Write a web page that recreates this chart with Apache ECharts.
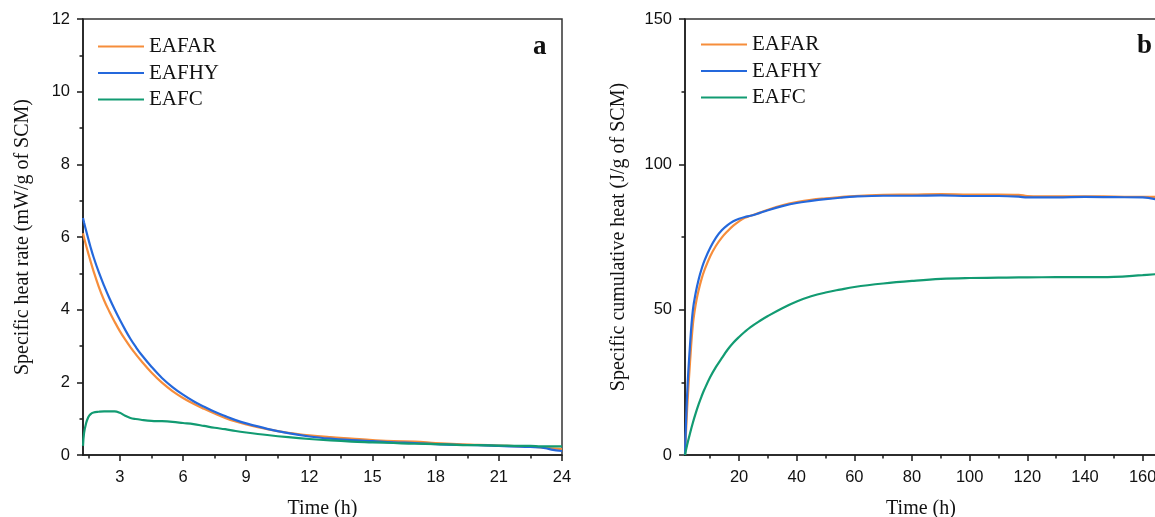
<!DOCTYPE html>
<html>
<head>
<meta charset="utf-8">
<script src="https://cdn.jsdelivr.net/npm/echarts@6/dist/echarts.min.js"></script>
<style>
html,body{margin:0;padding:0;background:#fff;}
#chart{width:1155px;height:517px;}
</style>
</head>
<body>
<div id="chart"></div>
<script>
// ---- Panel a: specific heat rate (mW/g of SCM) ----
const seriesNames = ['EAFAR', 'EAFHY', 'EAFC'];
const rateTime = [1.25,1.3,1.4,1.5,1.6,1.75,2,2.25,2.5,2.75,3,3.25,3.5,3.75,4,4.5,5,5.5,6,6.5,7,7.5,8,8.5,9,10,11,12,13,14,15,16,17,18,19,20,21,22,22.5,23,23.5,24];
const rateEAFAR = [6.10,5.98,5.76,5.55,5.35,5.06,4.63,4.26,3.95,3.67,3.41,3.18,2.97,2.78,2.60,2.27,1.99,1.76,1.57,1.41,1.27,1.14,1.02,0.92,0.84,0.71,0.61,0.54,0.49,0.45,0.41,0.38,0.37,0.33,0.30,0.28,0.26,0.24,0.23,0.21,0.18,0.16];
const rateEAFHY = [6.52,6.40,6.17,5.95,5.74,5.45,5.03,4.66,4.32,4.01,3.72,3.45,3.20,2.98,2.78,2.43,2.12,1.87,1.66,1.48,1.33,1.19,1.07,0.96,0.87,0.72,0.60,0.51,0.45,0.41,0.38,0.35,0.33,0.30,0.28,0.27,0.25,0.23,0.22,0.21,0.15,0.11];
const rateEAFC  = [0.25,0.60,0.88,1.04,1.12,1.17,1.19,1.20,1.20,1.20,1.16,1.08,1.02,0.99,0.97,0.94,0.93,0.91,0.88,0.85,0.80,0.75,0.71,0.66,0.62,0.55,0.49,0.44,0.40,0.37,0.35,0.33,0.31,0.30,0.28,0.27,0.26,0.25,0.25,0.24,0.24,0.24];
const rateXTicks = [3,6,9,12,15,18,21,24];
const rateXMinor = [1.5,4.5,7.5,10.5,13.5,16.5,19.5,22.5];

// ---- Panel b: specific cumulative heat (J/g of SCM) ----
const cumTime = [1.25,2,3,4,5,6,7,8,10,12,14,16,18,20,22,24,27,30,35,40,45,50,55,60,70,80,90,100,110,117,120,130,140,150,160,164.5];
const cumEAFAR = [0,16,32,45,52,56.8,60.6,63.6,68.4,72,74.8,77,78.9,80.4,81.6,82.3,83.3,84.4,85.9,87.0,87.8,88.3,88.7,89.1,89.5,89.6,89.8,89.6,89.6,89.5,89.1,89.0,89.0,88.9,88.8,88.8];
const cumEAFHY = [0,21,38,50,56,60.5,64,66.9,71.3,74.8,77.3,79.1,80.4,81.3,81.9,82.3,83.2,84.2,85.6,86.7,87.4,88.0,88.5,88.9,89.2,89.2,89.3,89.1,89.1,88.9,88.6,88.6,88.8,88.7,88.6,88.0];
const cumEAFC  = [0,3.5,7.5,11.2,14.5,17.5,20.2,22.6,26.8,30.3,33.3,36.2,38.6,40.6,42.4,44.0,46.0,47.8,50.5,52.8,54.6,55.9,56.9,57.8,59.0,59.9,60.6,60.9,61.0,61.1,61.1,61.2,61.2,61.3,61.9,62.2];
const cumXTicks = [20,40,60,80,100,120,140,160];
const cumXMinor = [10,30,50,70,90,110,130,150];

const colors = ['#F68D3B', '#2468DC', '#129B72'];
const SANS = '"Liberation Sans", Arial, sans-serif';
const SERIF = '"Liberation Serif", "Times New Roman", serif';
const AXIS_COLOR = '#1a1a1a';

function zip(xs, ys) { return xs.map((x, i) => [x, ys[i]]); }

function mainX(gridIndex, min, max, ticks) {
  return {
    type: 'value', gridIndex, min, max, position: 'bottom',
    name: 'Time (h)', nameLocation: 'middle', nameGap: 44,
    nameTextStyle: { fontFamily: SERIF, fontSize: 20, color: '#111' },
    axisLine: { show: true, onZero: false, lineStyle: { color: AXIS_COLOR, width: 1.5 } },
    axisTick: { show: true, inside: false, length: 6, customValues: ticks, lineStyle: { color: AXIS_COLOR, width: 1.5 } },
    axisLabel: { show: true, customValues: ticks, margin: 14, fontFamily: SANS, fontSize: 16.5, color: '#111' },
    splitLine: { show: false }
  };
}
function minorX(gridIndex, min, max, ticks) {
  return {
    type: 'value', gridIndex, min, max, position: 'bottom',
    axisLine: { show: false, onZero: false },
    axisTick: { show: true, inside: false, length: 3.5, customValues: ticks, lineStyle: { color: AXIS_COLOR, width: 1.5 } },
    axisLabel: { show: false },
    splitLine: { show: false }
  };
}
function mainY(gridIndex, max, interval, name, gap) {
  return {
    type: 'value', gridIndex, min: 0, max, interval,
    name, nameLocation: 'middle', nameGap: gap,
    nameTextStyle: { fontFamily: SERIF, fontSize: 20, color: '#111' },
    axisLine: { show: true, onZero: false, lineStyle: { color: AXIS_COLOR, width: 1.5 } },
    axisTick: { show: true, inside: false, length: 6, lineStyle: { color: AXIS_COLOR, width: 1.5 } },
    minorTick: { show: true, splitNumber: 2, length: 3.5, lineStyle: { color: AXIS_COLOR, width: 1.5 } },
    axisLabel: { margin: 13, fontFamily: SANS, fontSize: 16.5, color: '#111' },
    splitLine: { show: false }, minorSplitLine: { show: false }
  };
}
function lineSeries(name, xAxisIndex, yAxisIndex, data, color) {
  return {
    name, type: 'line', xAxisIndex, yAxisIndex, data,
    symbol: 'none', showSymbol: false, smooth: 0.4,
    lineStyle: { color, width: 2.2 }, itemStyle: { color },
    emphasis: { disabled: true }, animation: false
  };
}
function legendFor(left, top) {
  return {
    left, top, orient: 'vertical', itemWidth: 46, itemHeight: 14, itemGap: 5.5,
    data: seriesNames.map(n => ({ name: n, icon: 'path://M0,5.9 L46,5.9 L46,8.1 L0,8.1 Z' })),
    textStyle: { fontFamily: SERIF, fontSize: 21, color: '#111', lineHeight: 20 },
    selectedMode: false
  };
}

const chart = echarts.init(document.getElementById('chart'), null, { renderer: 'canvas' });
const option = {
  backgroundColor: '#fff',
  animation: false,
  grid: [
    { left: 83, top: 19, width: 479, height: 436, show: true, borderColor: '#333', borderWidth: 1.5, backgroundColor: 'transparent', outerBoundsMode: 'none', containLabel: false },
    { left: 685, top: 19, width: 472, height: 436, show: true, borderColor: '#333', borderWidth: 1.5, backgroundColor: 'transparent', outerBoundsMode: 'none', containLabel: false }
  ],
  xAxis: [
    mainX(0, 1.25, 24, rateXTicks),
    mainX(1, 1.25, 164.97, cumXTicks),
    minorX(0, 1.25, 24, rateXMinor),
    minorX(1, 1.25, 164.97, cumXMinor)
  ],
  yAxis: [
    mainY(0, 12, 2, 'Specific heat rate (mW/g of SCM)', 50),
    mainY(1, 150, 50, 'Specific cumulative heat (J/g of SCM)', 56)
  ],
  legend: [ legendFor(93, 31), legendFor(696, 29) ],
  graphic: [
    { type: 'text', left: 533, top: 34, style: { text: 'a', font: 'bold 27px "Liberation Serif", serif', fill: '#111' } },
    { type: 'text', left: 1137, top: 33, style: { text: 'b', font: 'bold 27px "Liberation Serif", serif', fill: '#111' } }
  ],
  series: [
    lineSeries('EAFAR', 0, 0, zip(rateTime, rateEAFAR), colors[0]),
    lineSeries('EAFHY', 0, 0, zip(rateTime, rateEAFHY), colors[1]),
    lineSeries('EAFC', 0, 0, zip(rateTime, rateEAFC), colors[2]),
    lineSeries('EAFAR', 1, 1, zip(cumTime, cumEAFAR), colors[0]),
    lineSeries('EAFHY', 1, 1, zip(cumTime, cumEAFHY), colors[1]),
    lineSeries('EAFC', 1, 1, zip(cumTime, cumEAFC), colors[2])
  ]
};
chart.setOption(option);
</script>
</body>
</html>
